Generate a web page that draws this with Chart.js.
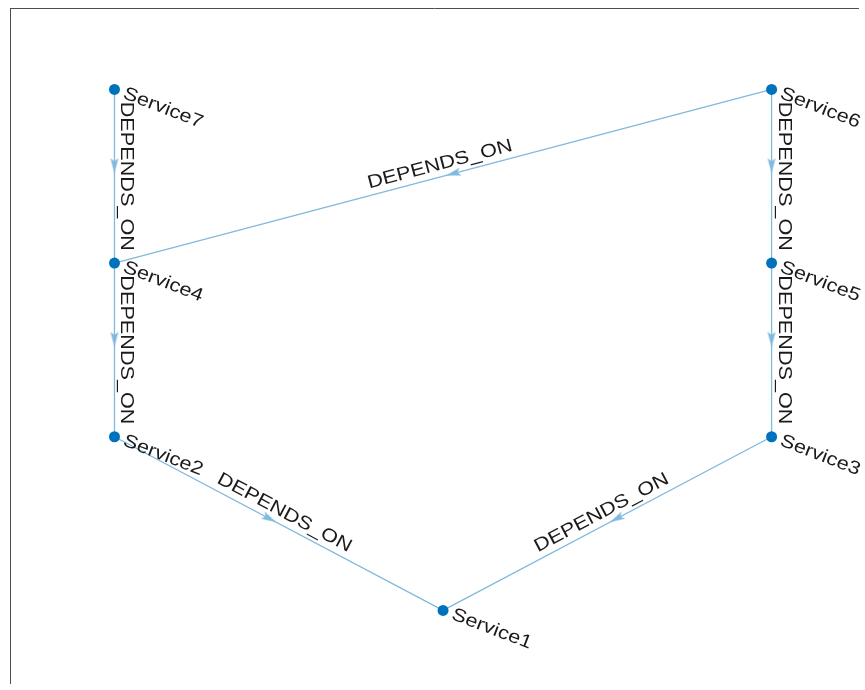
<!DOCTYPE html>
<html>
<head>
<meta charset="utf-8">
<script src="https://cdn.jsdelivr.net/npm/chart.js@4/dist/chart.umd.min.js"></script>
<style>
  body { margin: 0; background: #fff; }
  canvas { display: block; }
</style>
</head>
<body>
<canvas id="graph" width="865" height="690"></canvas>
<script>
// layered layout of the digraph, node coordinates in layout units
const nodeNames = ["Service1", "Service2", "Service3", "Service4", "Service5", "Service6", "Service7"];
const nodeX = [2, 1, 3, 1, 3, 3, 1];
const nodeY = [1, 2, 2, 3, 3, 4, 4];

const edgeSource = ["Service7", "Service4", "Service2", "Service3", "Service6", "Service5", "Service6"];
const edgeTarget = ["Service4", "Service2", "Service1", "Service1", "Service5", "Service3", "Service4"];
const edgeLabels = ["DEPENDS_ON", "DEPENDS_ON", "DEPENDS_ON", "DEPENDS_ON", "DEPENDS_ON", "DEPENDS_ON", "DEPENDS_ON"];

const nodeColor = "#0072BD";
const edgeColor = "#80B9DE";
const textColor = "#1a1a1a";
const labelFont = '18.5px "Liberation Sans", Arial, sans-serif';
const textStretch = 1.17;

const pos = (name) => {
  const i = nodeNames.indexOf(name);
  return { x: nodeX[i], y: nodeY[i] };
};

// arrow head pointing up, tip 3px behind the centre of the image
const arrow = document.createElement("canvas");
arrow.width = 40;
arrow.height = 40;
const actx = arrow.getContext("2d");
actx.fillStyle = edgeColor;
actx.beginPath();
actx.moveTo(20, 23);
actx.lineTo(24, 38);
actx.lineTo(20, 35);
actx.lineTo(16, 38);
actx.closePath();
actx.fill();

const edgeSets = edgeSource.map((s, i) => ({
  type: "line",
  data: [pos(s), pos(edgeTarget[i])],
  borderColor: edgeColor,
  borderWidth: 1.3,
  pointRadius: 0,
  fill: false,
  order: 3,
}));

const arrowPoints = edgeSource.map((s, i) => {
  const a = pos(s);
  const b = pos(edgeTarget[i]);
  return { x: (a.x + b.x) / 2, y: (a.y + b.y) / 2, x1: a.x, y1: a.y, x2: b.x, y2: b.y };
});

const textPlugin = {
  id: "graphText",
  afterDatasetsDraw(chart) {
    const { ctx, scales } = chart;
    const px = (v) => scales.x.getPixelForValue(v);
    const py = (v) => scales.y.getPixelForValue(v);
    ctx.save();
    ctx.fillStyle = textColor;
    ctx.font = labelFont;

    edgeSource.forEach((s, i) => {
      const a = pos(s);
      const b = pos(edgeTarget[i]);
      const x1 = px(a.x), y1 = py(a.y), x2 = px(b.x), y2 = py(b.y);
      let ang = Math.atan2(y2 - y1, x2 - x1);
      if (ang > Math.PI / 2) ang -= Math.PI;
      if (ang <= -Math.PI / 2) ang += Math.PI;
      ctx.save();
      ctx.translate((x1 + x2) / 2, (y1 + y2) / 2);
      ctx.rotate(ang);
      ctx.scale(textStretch, 1);
      ctx.textAlign = "center";
      ctx.textBaseline = "alphabetic";
      ctx.fillText(edgeLabels[i], 0, -7);
      ctx.restore();
    });

    nodeNames.forEach((n, i) => {
      ctx.save();
      ctx.translate(px(nodeX[i]), py(nodeY[i]));
      ctx.rotate((21 * Math.PI) / 180);
      ctx.scale(textStretch, 1);
      ctx.textAlign = "left";
      ctx.textBaseline = "middle";
      ctx.fillText(n, 8.5, 0);
      ctx.restore();
    });
    ctx.restore();
  },
};

const chart = new Chart(document.getElementById("graph"), {
  type: "scatter",
  data: {
    datasets: [
      ...edgeSets,
      {
        data: arrowPoints,
        pointStyle: arrow,
        pointRadius: 6,
        pointRotation: (c) => {
          const p = c.raw;
          if (!p) return 0;
          const sx = c.chart.scales.x;
          const sy = c.chart.scales.y;
          const dx = sx.getPixelForValue(p.x2) - sx.getPixelForValue(p.x1);
          const dy = sy.getPixelForValue(p.y2) - sy.getPixelForValue(p.y1);
          return (Math.atan2(dy, dx) * 180) / Math.PI + 90;
        },
        order: 2,
      },
      {
        data: nodeNames.map((n, i) => ({ x: nodeX[i], y: nodeY[i] })),
        backgroundColor: nodeColor,
        borderColor: nodeColor,
        pointRadius: 5.5,
        pointBorderWidth: 0,
        order: 1,
      },
    ],
  },
  options: {
    responsive: false,
    animation: false,
    layout: { padding: { left: 10, top: 8, right: 0, bottom: 0 } },
    plugins: {
      legend: { display: false },
      tooltip: { enabled: false },
    },
    scales: {
      x: {
        type: "linear",
        position: "top",
        min: 0.682,
        max: 3.263,
        ticks: { display: false },
        grid: { display: false, drawTicks: false },
        border: { display: true, color: "#4d4d4d", width: 1 },
      },
      y: {
        type: "linear",
        position: "left",
        min: 0.582,
        max: 4.469,
        ticks: { display: false },
        grid: { display: false, drawTicks: false },
        border: { display: true, color: "#4d4d4d", width: 1 },
      },
    },
  },
  plugins: [textPlugin],
});
</script>
</body>
</html>
